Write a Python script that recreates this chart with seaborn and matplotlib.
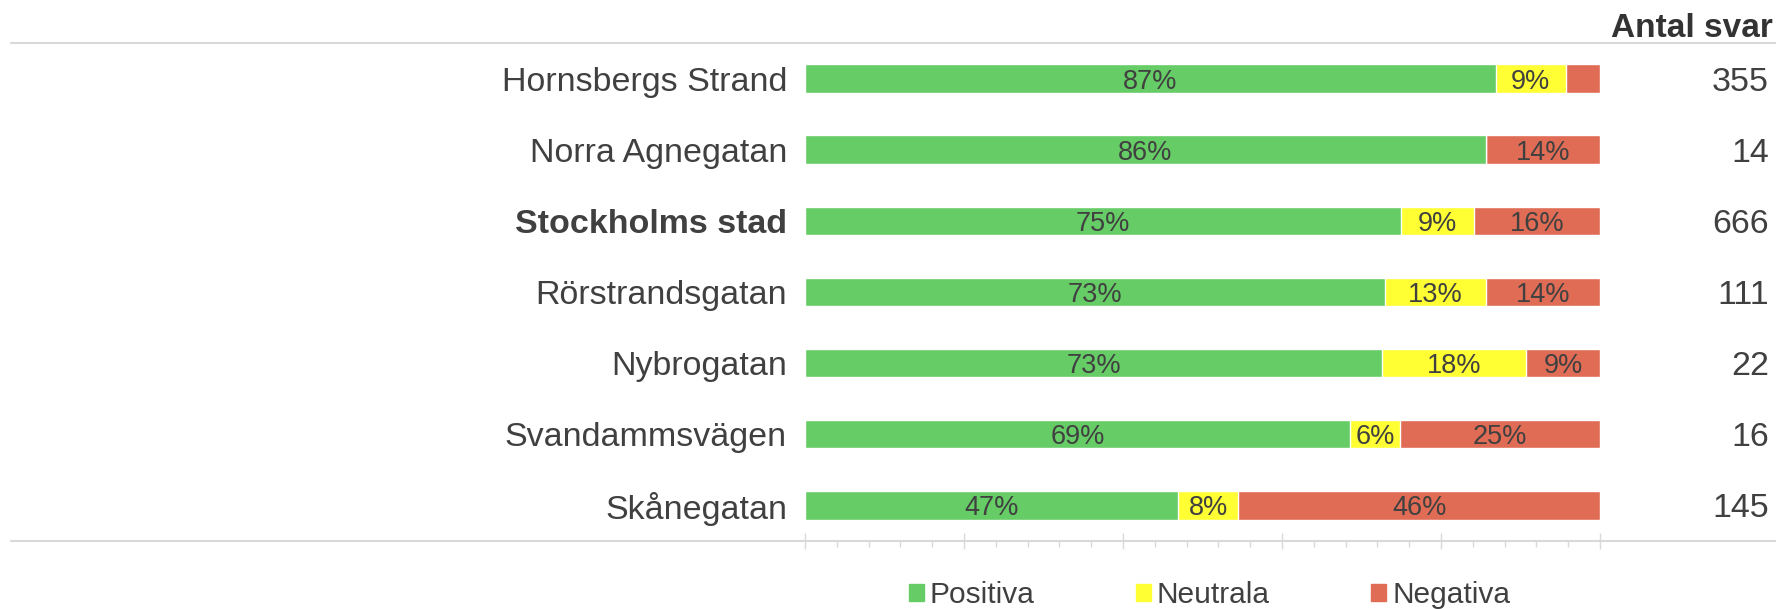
import matplotlib
matplotlib.use('Agg')
import matplotlib.pyplot as plt
import matplotlib.transforms as mtransforms
from matplotlib.lines import Line2D
from matplotlib.patches import Patch
from matplotlib.ticker import MultipleLocator
import pandas as pd
import seaborn as sns


omraden = ['Hornsbergs Strand', 'Norra Agnegatan', 'Stockholms stad', 'Rörstrandsgatan',
           'Nybrogatan', 'Svandammsvägen', 'Skånegatan']
positiva = [86.9, 85.6, 75.0, 72.9, 72.6, 68.6, 46.9]
neutrala = [8.8, 0.0, 9.1, 12.8, 18.1, 6.3, 7.6]
negativa = [4.3, 14.4, 15.9, 14.3, 9.3, 25.1, 45.5]
antal_svar = [355, 14, 666, 111, 22, 16, 145]
legend_labels = ['Positiva', 'Neutrala', 'Negativa']

green = '#66cc66'
yellow = '#ffff33'
red = '#e06c55'
text_color = '#404040'
grid_color = '#d9d9d9'

df = pd.DataFrame({'omrade': omraden, 'positiva': positiva,
                   'neutrala': neutrala, 'negativa': negativa})
df['pos_neu'] = df['positiva'] + df['neutrala']
df['total'] = df['pos_neu'] + df['negativa']

sns.set_theme(style='white')
plt.rcParams['font.family'] = ['Liberation Sans', 'DejaVu Sans']

fig = plt.figure(figsize=(17.76, 6.09), dpi=100)
ax = fig.add_axes([0.4533, 0.1117, 0.4476, 0.8177])

# stacked bars drawn as overlapping cumulative totals
for col, color in [('total', red), ('pos_neu', yellow), ('positiva', green)]:
    sns.barplot(data=df, x=col, y='omrade', color=color, saturation=1,
                width=0.4, orient='h', ax=ax)

ax.set_xlim(0, 100)
ax.set_xlabel('')
ax.set_ylabel('')
for s in ax.spines.values():
    s.set_visible(False)

ax.xaxis.set_major_locator(MultipleLocator(20))
ax.xaxis.set_minor_locator(MultipleLocator(4))
ax.tick_params(axis='x', which='major', bottom=True, direction='inout', length=11.5,
               width=1, color=grid_color, labelbottom=False)
ax.tick_params(axis='x', which='minor', bottom=True, direction='out', length=4.3,
               width=1, color=grid_color)
ax.tick_params(axis='y', length=0, pad=13, labelsize=24.5, labelcolor=text_color)
for lbl in ax.get_yticklabels():
    lbl.set_verticalalignment('center_baseline')
    if lbl.get_text() == 'Stockholms stad':
        lbl.set_fontweight('bold')

# segment labels
for i, row in df.iterrows():
    starts = [0, row['positiva'], row['pos_neu']]
    vals = [row['positiva'], row['neutrala'], row['negativa']]
    for s, v in zip(starts, vals):
        if v >= 5:
            ax.text(s + v / 2, i, f'{v:.0f}%', ha='center', va='center_baseline',
                    fontsize=19.5, color=text_color)

# answer counts on the right
trans = mtransforms.blended_transform_factory(fig.transFigure, ax.transData)
for i, n in enumerate(antal_svar):
    ax.text(0.996, i, str(n), transform=trans, ha='right', va='center_baseline',
            fontsize=24.5, color=text_color)
fig.text(0.9983, 0.959, 'Antal svar', ha='right', va='center_baseline', fontsize=24,
         fontweight='bold', color='#333333')

# horizontal rules
fig.add_artist(Line2D([11 / 1776, 1], [566 / 609, 566 / 609], transform=fig.transFigure,
                      color=grid_color, lw=1.5))
fig.add_artist(Line2D([11 / 1776, 1], [68 / 609, 68 / 609], transform=fig.transFigure,
                      color=grid_color, lw=1.5))

handles = [Patch(color=c, label=l) for c, l in zip([green, yellow, red], legend_labels)]
fig.legend(handles=handles, loc='center', bbox_to_anchor=(0.681, 0.0235), ncol=3,
           frameon=False, fontsize=21.5, handlelength=0.5, handleheight=0.5,
           handletextpad=0.2, columnspacing=3.4, labelcolor=text_color,
           borderpad=0, borderaxespad=0)

fig.savefig('out.png', dpi=100)
